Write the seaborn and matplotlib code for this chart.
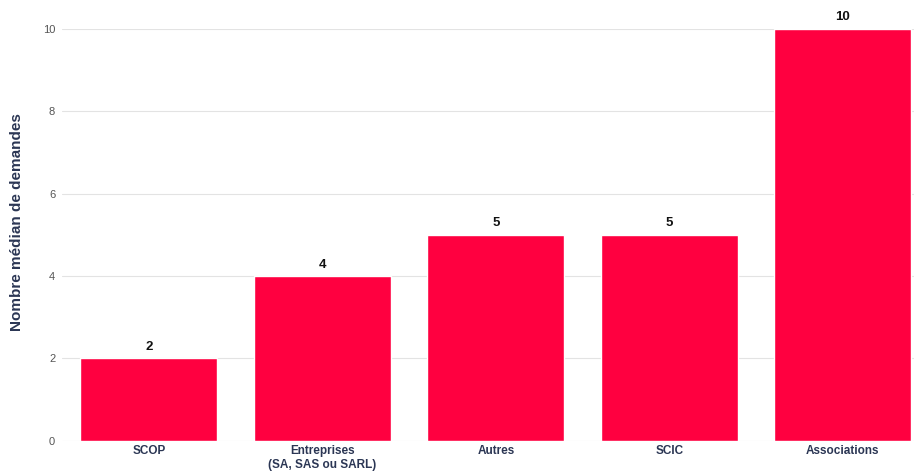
"""Median number of requests per structure type."""

import matplotlib.pyplot as plt
import pandas as pd
import seaborn as sns

categories = ["SCOP", "Entreprises\n(SA, SAS ou SARL)", "Autres", "SCIC", "Associations"]
values = [2, 4, 5, 5, 10]
y_ticks = [0, 2, 4, 6, 8, 10]

BAR_COLOR = "#ff0040"
TEXT_COLOR = "#2b3654"


def main() -> None:
    data = pd.DataFrame({"type": categories, "median": values})

    sns.set_theme(style="white")
    plt.rcParams["font.family"] = ["Liberation Sans", "DejaVu Sans"]

    fig = plt.figure(figsize=(9.14, 4.75), dpi=100)
    ax = fig.add_axes([0.068, 0.072, 0.932, 0.867])

    sns.barplot(data=data, x="type", y="median", color=BAR_COLOR, width=0.79,
                saturation=1, ax=ax, zorder=2)

    for container in ax.containers:
        ax.bar_label(container, fmt="%d", padding=4, fontsize=9.5,
                     fontweight="bold", color="#111111", clip_on=False)

    ax.set_ylim(0, 10)
    ax.set_xlim(-0.5, 4.41)
    ax.set_yticks(y_ticks)
    ax.yaxis.grid(True, color="#e3e3e3", linewidth=0.8, zorder=0)
    ax.set_axisbelow(True)
    sns.despine(ax=ax, left=True, bottom=True)

    ax.set_xlabel("")
    ax.set_ylabel("Nombre médian de demandes", fontsize=11, fontweight="bold",
                  color=TEXT_COLOR)
    ax.yaxis.set_label_coords(-0.045, 0.53)
    ax.tick_params(axis="y", labelsize=8, labelcolor="#555555", length=0, pad=5)
    ax.tick_params(axis="x", labelsize=8.5, labelcolor=TEXT_COLOR, length=0, pad=3)
    for label in ax.get_xticklabels():
        label.set_fontweight("bold")

    fig.savefig("out.png", dpi=100)
    plt.close(fig)


if __name__ == "__main__":
    main()
